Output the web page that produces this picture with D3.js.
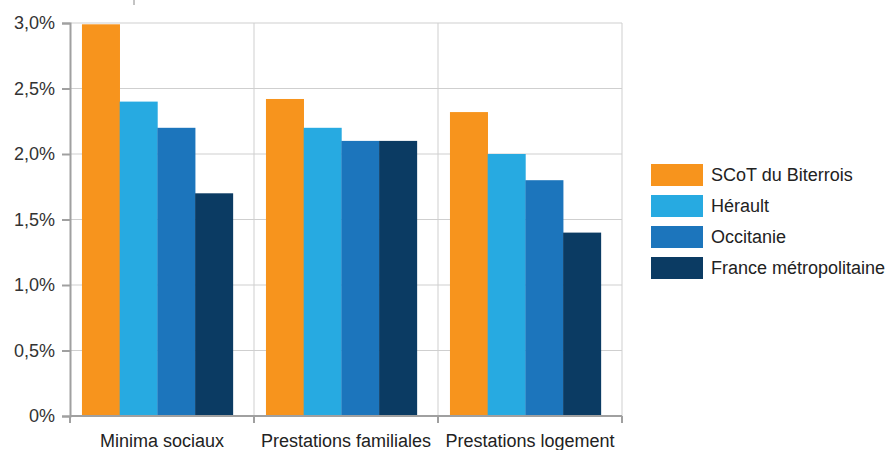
<!DOCTYPE html>
<html><head><meta charset="utf-8">
<script src="https://cdn.jsdelivr.net/npm/d3@7"></script>
<style>body{margin:0;background:#fff;font-family:Arial,"Liberation Sans",sans-serif;}</style>
</head><body><svg id="c" width="893" height="450"></svg>
<script>
const categories = ["Minima sociaux","Prestations familiales","Prestations logement"];
const seriesNames = ["SCoT du Biterrois","Hérault","Occitanie","France métropolitaine"];
const scotValues = [2.99, 2.42, 2.32];
const heraultValues = [2.4, 2.2, 2.0];
const occitanieValues = [2.2, 2.1, 1.8];
const franceValues = [1.7, 2.1, 1.4];
const colors = ["#F7941D","#27AAE1","#1C75BC","#0B3B63"];
const yTicks = [0,0.5,1,1.5,2,2.5,3];
const yTickLabels = ["0%","0,5%","1,0%","1,5%","2,0%","2,5%","3,0%"];

const series = [scotValues, heraultValues, occitanieValues, franceValues];
const FONT = "Arial, 'Liberation Sans', sans-serif";
const svg = d3.select("#c");
const L=70, R=622, T=23, B=416;
const x0 = d3.scaleBand().domain(categories).range([L,R]).padding(0);
const bw = x0.bandwidth();
const x1 = d3.scaleBand().domain(d3.range(4)).range([bw*0.065, bw*0.885]).padding(0);
const y = d3.scaleLinear().domain([0,3]).range([B,T]);

svg.append("g").selectAll("line").data(yTicks.slice(1)).join("line")
  .attr("x1",L).attr("x2",R).attr("y1",d=>y(d)).attr("y2",d=>y(d))
  .attr("stroke","#cfcfcf").attr("stroke-width",1);
svg.append("g").selectAll("line").data([x0(categories[1]), x0(categories[2]), R]).join("line")
  .attr("x1",d=>d).attr("x2",d=>d)
  .attr("y1",T).attr("y2",B).attr("stroke","#cfcfcf");

const g = svg.append("g");
categories.forEach((c,ci)=>{
  series.forEach((s,si)=>{
    g.append("rect").attr("x",x0(c)+x1(si)).attr("width",x1.bandwidth()+0.3)
      .attr("y",y(s[ci])).attr("height",B-y(s[ci])).attr("fill",colors[si]);
  });
});

const ya = svg.append("g").attr("transform",`translate(${L},0)`)
  .call(d3.axisLeft(y).tickValues(yTicks).tickFormat((d,i)=>yTickLabels[i]).tickSize(8).tickPadding(7));
ya.attr("font-size",18).attr("font-family",FONT);
ya.select(".domain").attr("stroke","#a0a0a0").attr("stroke-width",2);
ya.selectAll(".tick line").attr("stroke","#a0a0a0").attr("stroke-width",2);
ya.selectAll("text").attr("fill","#333");

const xa = svg.append("g").attr("transform",`translate(0,${B})`);
xa.append("line").attr("x1",L).attr("x2",R).attr("stroke","#a0a0a0").attr("stroke-width",2);
xa.selectAll("line.t").data([L, x0(categories[1]), x0(categories[2]), R]).join("line").attr("class","t")
  .attr("x1",d=>d).attr("x2",d=>d).attr("y1",0).attr("y2",7).attr("stroke","#a0a0a0").attr("stroke-width",2);
xa.selectAll("text").data(categories).join("text")
  .attr("x",d=>x0(d)+bw/2).attr("y",31).attr("text-anchor","middle")
  .attr("font-size",18).attr("font-family",FONT).attr("fill","#222").text(d=>d);

svg.append("line").attr("x1",134).attr("x2",134).attr("y1",0).attr("y2",5).attr("stroke","#888");

const lg = svg.append("g");
seriesNames.forEach((n,i)=>{
  const yy = 164 + i*31;
  lg.append("rect").attr("x",651).attr("y",yy).attr("width",52).attr("height",22).attr("fill",colors[i]);
  lg.append("text").attr("x",711).attr("y",yy+17).attr("font-size",18).attr("font-family",FONT).attr("fill","#222").text(n);
});
</script></body></html>
